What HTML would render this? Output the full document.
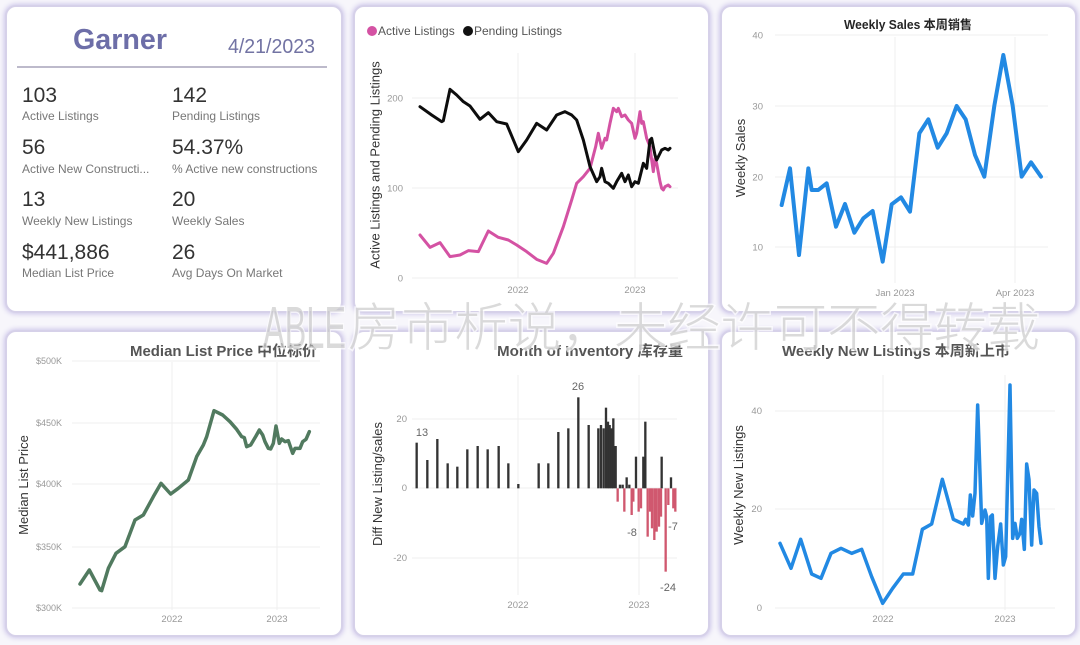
<!DOCTYPE html>
<html>
<head>
<meta charset="utf-8">
<style>
  html,body{margin:0;padding:0;}
  body{width:1080px;height:645px;overflow:hidden;background:#f7f6fb;position:relative;font-family:"Liberation Sans","Noto Sans CJK SC",sans-serif;}
  .card{position:absolute;box-sizing:border-box;background:#fff;border:2px solid #d6d1e9;border-radius:11px;box-shadow:0 0 5px 1px rgba(190,180,228,0.75);}
  svg{position:absolute;left:0;top:0;}
  text{font-family:"Liberation Sans","Noto Sans CJK SC",sans-serif;}
</style>
</head>
<body>
<div class="card" style="left:5px;top:5px;width:338px;height:308px;"></div>
<div class="card" style="left:353px;top:5px;width:357px;height:308px;"></div>
<div class="card" style="left:720px;top:5px;width:357px;height:308px;"></div>
<div class="card" style="left:5px;top:330px;width:338px;height:307px;"></div>
<div class="card" style="left:353px;top:330px;width:357px;height:307px;"></div>
<div class="card" style="left:720px;top:330px;width:357px;height:307px;"></div>

<svg width="1080" height="645" viewBox="0 0 1080 645" xmlns="http://www.w3.org/2000/svg">
  <!-- ===== Card 1 KPI ===== -->
  <text x="120" y="49" font-size="29" font-weight="bold" fill="#6d6ea8" text-anchor="middle" textLength="94" lengthAdjust="spacingAndGlyphs">Garner</text>
  <text x="228" y="53" font-size="20" fill="#7273a3" textLength="87" lengthAdjust="spacingAndGlyphs">4/21/2023</text>
  <line x1="17" y1="67" x2="327" y2="67" stroke="#bdbacb" stroke-width="2"/>
  <g font-size="21" fill="#333">
    <text x="22" y="102">103</text>
    <text x="172" y="102">142</text>
    <text x="22" y="154">56</text>
    <text x="172" y="154">54.37%</text>
    <text x="22" y="206">13</text>
    <text x="172" y="206">20</text>
    <text x="22" y="259">$441,886</text>
    <text x="172" y="259">26</text>
  </g>
  <g font-size="12" fill="#777">
    <text x="22" y="120">Active Listings</text>
    <text x="172" y="120">Pending Listings</text>
    <text x="22" y="173">Active New Constructi...</text>
    <text x="172" y="173">% Active new constructions</text>
    <text x="22" y="225">Weekly New Listings</text>
    <text x="172" y="225">Weekly Sales</text>
    <text x="22" y="277">Median List Price</text>
    <text x="172" y="277">Avg Days On Market</text>
  </g>

  <!-- ===== Card 2 Active/Pending ===== -->
  <circle cx="372" cy="31" r="5" fill="#d452a3"/>
  <text x="378" y="35" font-size="12" fill="#555">Active Listings</text>
  <circle cx="468" cy="31" r="5" fill="#111"/>
  <text x="474" y="35" font-size="12" fill="#555">Pending Listings</text>
  <g stroke="#efefef" stroke-width="1">
    <line x1="412" y1="98" x2="678" y2="98"/>
    <line x1="412" y1="188" x2="678" y2="188"/>
    <line x1="412" y1="278" x2="678" y2="278"/>
    <line x1="518" y1="53" x2="518" y2="278"/>
    <line x1="635" y1="53" x2="635" y2="278"/>
  </g>
  <g font-size="9.5" fill="#999" text-anchor="end">
    <text x="403" y="101.5">200</text>
    <text x="403" y="191.5">100</text>
    <text x="403" y="281.5">0</text>
  </g>
  <g font-size="9.5" fill="#999" text-anchor="middle">
    <text x="518" y="293">2022</text>
    <text x="635" y="293">2023</text>
  </g>
  <text transform="translate(379.5,165) rotate(-90)" font-size="13" fill="#333" text-anchor="middle">Active Listings and Pending Listings</text>
  <g transform="translate(350,0) scale(0.33333)" fill="none" stroke-linejoin="round" stroke-linecap="round">
    <path vector-effect="non-scaling-stroke" stroke="#d452a3" stroke-width="3" d="M210,705 L240,742 L270,728 L300,770 L330,765 L355,752 L385,755 L415,693 L445,712 L475,720 L500,735 L530,755 L560,778 L590,790 L610,760 L640,680 L665,600 L680,550 L700,530 L720,505 L737,440 L745,400 L755,445 L765,415 L770,420 L780,370 L790,325 L800,335 L805,325 L815,350 L825,345 L835,360 L845,370 L855,415 L860,400 L870,335 L875,370 L880,365 L890,415 L900,440 L905,480 L910,515 L915,475 L920,490 L930,545 L935,565 L940,570 L945,560 L955,555 L960,560"/>
    <path vector-effect="non-scaling-stroke" stroke="#0d0d0d" stroke-width="3" d="M210,320 L245,345 L275,365 L280,362 L300,268 L320,285 L340,305 L360,318 L390,358 L415,338 L440,365 L470,372 L505,455 L530,420 L560,370 L590,390 L620,345 L645,335 L665,345 L680,360 L700,420 L720,500 L740,545 L750,530 L755,505 L765,545 L775,550 L790,565 L800,545 L815,520 L825,545 L835,525 L845,560 L855,545 L865,550 L880,490 L890,505 L900,420 L905,415 L915,465 L920,480 L935,450 L945,445 L955,450 L960,445"/>
  </g>

  <!-- ===== Card 3 Weekly Sales ===== -->
  <text x="908" y="29" font-size="12.5" font-weight="bold" fill="#252525" text-anchor="middle" textLength="128" lengthAdjust="spacingAndGlyphs">Weekly Sales 本周销售</text>
  <g stroke="#efefef" stroke-width="1">
    <line x1="775" y1="35" x2="1048" y2="35"/>
    <line x1="775" y1="106" x2="1048" y2="106"/>
    <line x1="775" y1="177" x2="1048" y2="177"/>
    <line x1="775" y1="247" x2="1048" y2="247"/>
    <line x1="895" y1="37" x2="895" y2="283"/>
    <line x1="1015" y1="37" x2="1015" y2="283"/>
  </g>
  <g font-size="9.5" fill="#999" text-anchor="end">
    <text x="763" y="38.5">40</text>
    <text x="763" y="109.5">30</text>
    <text x="763" y="180.5">20</text>
    <text x="763" y="250.5">10</text>
  </g>
  <g font-size="9.5" fill="#999" text-anchor="middle">
    <text x="895" y="296">Jan 2023</text>
    <text x="1015" y="296">Apr 2023</text>
  </g>
  <text transform="translate(745,158) rotate(-90)" font-size="13" fill="#333" text-anchor="middle">Weekly Sales</text>
  <g transform="translate(715,0) scale(0.33333)" fill="none" stroke-linejoin="round" stroke-linecap="round">
    <path vector-effect="non-scaling-stroke" stroke="#2289e3" stroke-width="4" d="M200,615 L225,505 L252,765 L280,505 L290,570 L310,570 L335,550 L363,680 L390,612 L418,698 L445,655 L473,633 L503,785 L530,613 L558,592 L585,635 L613,400 L640,358 L668,443 L695,400 L725,318 L752,358 L780,465 L808,530 L838,317 L865,165 L893,317 L920,530 L948,487 L978,530"/>
  </g>

  <!-- ===== Card 4 Median List Price ===== -->
  <text x="130" y="356" font-size="14.5" font-weight="bold" fill="#555" textLength="187" lengthAdjust="spacingAndGlyphs">Median List Price  中位标价</text>
  <g stroke="#efefef" stroke-width="1">
    <line x1="72" y1="361" x2="320" y2="361"/>
    <line x1="72" y1="423" x2="320" y2="423"/>
    <line x1="72" y1="484" x2="320" y2="484"/>
    <line x1="72" y1="547" x2="320" y2="547"/>
    <line x1="72" y1="608" x2="320" y2="608"/>
    <line x1="172" y1="362" x2="172" y2="610"/>
    <line x1="277" y1="362" x2="277" y2="610"/>
  </g>
  <g font-size="9" fill="#999" text-anchor="end">
    <text x="62" y="364">$500K</text>
    <text x="62" y="426">$450K</text>
    <text x="62" y="487">$400K</text>
    <text x="62" y="550">$350K</text>
    <text x="62" y="611">$300K</text>
  </g>
  <g font-size="9.5" fill="#999" text-anchor="middle">
    <text x="172" y="622">2022</text>
    <text x="277" y="622">2023</text>
  </g>
  <text transform="translate(28,485) rotate(-90)" font-size="13" fill="#333" text-anchor="middle">Median List Price</text>
  <g transform="translate(0,320) scale(0.33333)" fill="none" stroke-linejoin="round" stroke-linecap="round">
    <path vector-effect="non-scaling-stroke" stroke="#517a5f" stroke-width="3.5" d="M240,792 L268,750 L300,810 L305,812 L325,745 L348,700 L375,680 L405,600 L430,585 L460,530 L483,490 L512,522 L535,505 L565,480 L590,410 L610,375 L620,350 L642,272 L668,285 L690,305 L710,328 L725,350 L733,353 L740,380 L752,375 L768,348 L778,330 L788,345 L795,365 L805,385 L812,387 L820,370 L828,318 L838,370 L845,357 L855,365 L865,362 L878,400 L885,385 L900,385 L908,365 L918,358 L928,335"/>
  </g>

  <!-- ===== Card 5 Month of Inventory ===== -->
  <text x="497" y="356" font-size="14.5" font-weight="bold" fill="#555" textLength="186" lengthAdjust="spacingAndGlyphs">Month of Inventory 库存量</text>
  <g stroke="#efefef" stroke-width="1">
    <line x1="412" y1="419" x2="677" y2="419"/>
    <line x1="412" y1="488" x2="677" y2="488"/>
    <line x1="412" y1="558" x2="677" y2="558"/>
    <line x1="518" y1="375" x2="518" y2="595"/>
    <line x1="639" y1="375" x2="639" y2="595"/>
  </g>
  <g font-size="9.5" fill="#999" text-anchor="end">
    <text x="407" y="422">20</text>
    <text x="407" y="491">0</text>
    <text x="407" y="561">-20</text>
  </g>
  <g font-size="9.5" fill="#999" text-anchor="middle">
    <text x="518" y="608">2022</text>
    <text x="639" y="608">2023</text>
  </g>
  <text transform="translate(382,484) rotate(-90)" font-size="13" fill="#333" text-anchor="middle">Diff New Listing/sales</text>
  <g transform="translate(350,320) scale(0.33333)">
    <g fill="#333">
      <rect x="196.5" y="368" width="7" height="137"/>
      <rect x="228.5" y="420" width="7" height="85"/>
      <rect x="258.5" y="357" width="7" height="148"/>
      <rect x="289.5" y="430" width="7" height="75"/>
      <rect x="318.5" y="440" width="7" height="65"/>
      <rect x="348.5" y="388" width="7" height="117"/>
      <rect x="379.5" y="378" width="7" height="127"/>
      <rect x="409.5" y="388" width="7" height="117"/>
      <rect x="442.5" y="378" width="7" height="127"/>
      <rect x="471.5" y="430" width="7" height="75"/>
      <rect x="501.5" y="492" width="7" height="13"/>
      <rect x="562.5" y="430" width="7" height="75"/>
      <rect x="591.5" y="430" width="7" height="75"/>
      <rect x="621.5" y="336" width="7" height="169"/>
      <rect x="651.5" y="325" width="7" height="180"/>
      <rect x="681.5" y="232" width="7" height="273"/>
      <rect x="712.5" y="315" width="7" height="190"/>
      <rect x="741.5" y="325" width="7" height="180"/>
      <rect x="749.5" y="315" width="7" height="190"/>
      <rect x="757.5" y="325" width="7" height="180"/>
      <rect x="764.5" y="263" width="7" height="242"/>
      <rect x="770.5" y="305" width="7" height="200"/>
      <rect x="775.5" y="315" width="7" height="190"/>
      <rect x="781.5" y="325" width="7" height="180"/>
      <rect x="786.5" y="295" width="7" height="210"/>
      <rect x="793.5" y="378" width="7" height="127"/>
      <rect x="806.5" y="494" width="7" height="11"/>
      <rect x="814.5" y="494" width="7" height="11"/>
      <rect x="826.5" y="472" width="7" height="33"/>
      <rect x="834.5" y="494" width="7" height="11"/>
      <rect x="854.5" y="410" width="7" height="95"/>
      <rect x="876.5" y="410" width="7" height="95"/>
      <rect x="882.5" y="305" width="7" height="200"/>
      <rect x="931.5" y="410" width="7" height="95"/>
      <rect x="959.5" y="472" width="7" height="33"/>
    </g>
    <g fill="#d0586f">
      <rect x="799.5" y="505" width="7" height="40"/>
      <rect x="819.5" y="505" width="7" height="70"/>
      <rect x="841.5" y="505" width="7" height="80"/>
      <rect x="846.5" y="505" width="7" height="40"/>
      <rect x="862.5" y="505" width="7" height="70"/>
      <rect x="869.5" y="505" width="7" height="60"/>
      <rect x="889.5" y="505" width="7" height="145"/>
      <rect x="896.5" y="505" width="7" height="70"/>
      <rect x="902.5" y="505" width="7" height="120"/>
      <rect x="909.5" y="505" width="7" height="155"/>
      <rect x="916.5" y="505" width="7" height="130"/>
      <rect x="923.5" y="505" width="7" height="115"/>
      <rect x="929.5" y="505" width="7" height="85"/>
      <rect x="943.5" y="505" width="7" height="250"/>
      <rect x="951.5" y="505" width="7" height="50"/>
      <rect x="966.5" y="505" width="7" height="60"/>
      <rect x="972.5" y="505" width="7" height="70"/>
    </g>
  </g>
  <g font-size="11" fill="#666" text-anchor="middle">
    <text x="422" y="436">13</text>
    <text x="578" y="390">26</text>
    <text x="632" y="536">-8</text>
    <text x="673" y="530">-7</text>
    <text x="668" y="591">-24</text>
  </g>

  <!-- ===== Card 6 Weekly New Listings ===== -->
  <text x="782" y="356" font-size="14.5" font-weight="bold" fill="#555" textLength="228" lengthAdjust="spacingAndGlyphs">Weekly New Listings  本周新上市</text>
  <g stroke="#efefef" stroke-width="1">
    <line x1="775" y1="411" x2="1055" y2="411"/>
    <line x1="775" y1="509" x2="1055" y2="509"/>
    <line x1="775" y1="608" x2="1055" y2="608"/>
    <line x1="883" y1="375" x2="883" y2="610"/>
    <line x1="1005" y1="375" x2="1005" y2="610"/>
  </g>
  <g font-size="9.5" fill="#999" text-anchor="end">
    <text x="762" y="414">40</text>
    <text x="762" y="512">20</text>
    <text x="762" y="611">0</text>
  </g>
  <g font-size="9.5" fill="#999" text-anchor="middle">
    <text x="883" y="622">2022</text>
    <text x="1005" y="622">2023</text>
  </g>
  <text transform="translate(743,485) rotate(-90)" font-size="13" fill="#333" text-anchor="middle">Weekly New Listings</text>
  <g transform="translate(715,320) scale(0.33333)" fill="none" stroke-linejoin="round" stroke-linecap="round">
    <path vector-effect="non-scaling-stroke" stroke="#2289e3" stroke-width="3.5" d="M195,670 L228,745 L257,658 L290,762 L318,775 L348,700 L378,685 L410,700 L440,688 L470,770 L503,850 L533,805 L565,762 L593,762 L622,628 L650,612 L682,478 L715,598 L745,612 L752,598 L760,615 L766,525 L773,588 L780,520 L788,255 L800,610 L810,570 L815,590 L820,775 L827,590 L832,585 L840,775 L848,680 L857,612 L865,735 L872,710 L885,195 L893,655 L900,610 L907,655 L915,640 L920,598 L928,688 L935,432 L942,478 L950,675 L957,510 L965,520 L972,620 L978,670"/>
  </g>

  <!-- ===== Watermark ===== -->
  <g fill="#c2c2c2" fill-opacity="0.6" stroke="#ffffff" stroke-opacity="0.7" stroke-width="3" paint-order="stroke" font-weight="300">
    <text x="263" y="348" font-size="59" textLength="83" lengthAdjust="spacingAndGlyphs">ABLE</text>
    <text x="348" y="346" font-size="52" textLength="692" lengthAdjust="spacingAndGlyphs">房市析说，未经许可不得转载</text>
  </g>
</svg>
</body>
</html>
